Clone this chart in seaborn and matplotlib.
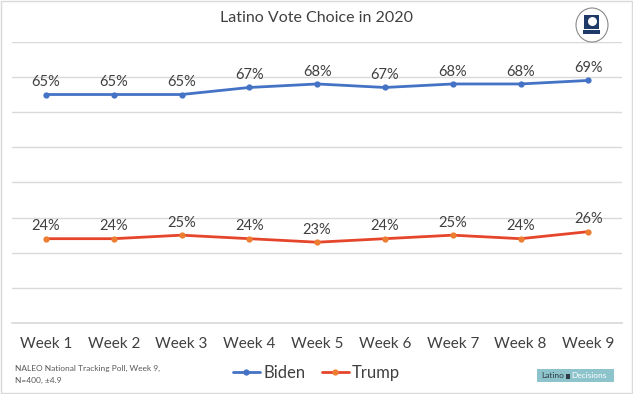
import matplotlib
matplotlib.use("Agg")
import matplotlib.pyplot as plt
from matplotlib.patches import Ellipse, Rectangle
import seaborn as sns
import pandas as pd

weeks = ["Week 1", "Week 2", "Week 3", "Week 4", "Week 5", "Week 6", "Week 7", "Week 8", "Week 9"]
biden = [65, 65, 65, 67, 68, 67, 68, 68, 69]
trump = [24, 24, 25, 24, 23, 24, 25, 24, 26]

sns.set_theme(style="white")
plt.rcParams['font.family'] = ['Lato', 'DejaVu Sans']

W, H = 633, 394
txt = '#404040'
fig = plt.figure(figsize=(W / 100, H / 100), dpi=100)
ax = fig.add_axes([0.019, 0.180, 0.964, 0.714])

df = pd.DataFrame({'week': weeks, 'Biden': biden, 'Trump': trump})

sns.lineplot(data=df, x='week', y='Biden', ax=ax, color='#4472C4', lw=2,
             marker='o', markersize=4.5, markeredgewidth=0, label='Biden', sort=False)
sns.lineplot(data=df, x='week', y='Trump', ax=ax, color='#E5462B', lw=2,
             marker='o', markersize=4.5, markerfacecolor='#ED7D31',
             markeredgewidth=0, label='Trump', sort=False)

for i, v in enumerate(biden):
    ax.annotate(f'{v}%', (i, v), xytext=(0, 6), textcoords='offset points',
                ha='center', va='baseline', fontsize=10.5, color=txt)
for i, v in enumerate(trump):
    ax.annotate(f'{v}%', (i, v), xytext=(0, 6), textcoords='offset points',
                ha='center', va='baseline', fontsize=10.5, color=txt)

ax.set_xlim(-0.5, 8.5)
ax.set_ylim(0, 80)
ax.set_yticks(range(0, 81, 10))
ax.yaxis.grid(True, color='#D9D9D9', lw=1)
ax.set_yticklabels([])
ax.tick_params(axis='y', length=0)
ax.tick_params(axis='x', length=0, labelsize=11, labelcolor=txt, pad=10)
ax.set_xlabel('')
ax.set_ylabel('')
for s in ['top', 'left', 'right']:
    ax.spines[s].set_visible(False)
ax.spines['bottom'].set_color('#D9D9D9')
ax.patch.set_alpha(0)

ax.legend_.remove()
h, l = ax.get_legend_handles_labels()
fig.legend(h, l, loc='center', bbox_to_anchor=(0.5, 0.053), ncol=2, frameon=False,
           fontsize=12, handlelength=1.6, handletextpad=0.2, columnspacing=1.0,
           labelcolor=txt)

fig.text(0.5, 0.955, 'Latino Vote Choice in 2020', ha='center', va='center',
         fontsize=11.5, color=txt)

fig.text(0.024, 0.066, 'NALEO National Tracking Poll, Week 9,', fontsize=6,
         color='#595959', va='center')
fig.text(0.024, 0.034, 'N=400, \u00b14.9', fontsize=6, color='#595959', va='center')

# Latino Decisions badge
fig.patches.append(Rectangle((537 / W, 12 / H), 77 / W, 13 / H, transform=fig.transFigure,
                             facecolor='#8DC3CB', edgecolor='none'))
fig.text(541 / W, 18.5 / H, 'Latino', fontsize=6, color='#2F3B45', va='center')
fig.patches.append(Rectangle((566 / W, 15.5 / H), 4 / W, 5 / H, transform=fig.transFigure,
                             facecolor='#2F3B45', edgecolor='none'))
fig.text(571 / W, 18.5 / H, 'Decisions', fontsize=6, color='white', va='center')

# NALEO logo (simplified)
cx, cy = 592, 394 - 25
fig.patches.append(Ellipse((cx / W, cy / H), 32 / W, 34 / H, transform=fig.transFigure,
                           facecolor='white', edgecolor='#8A8A8A', lw=0.8))
fig.patches.append(Rectangle(((cx - 8) / W, (cy - 4) / H), 15 / W, 14 / H,
                             transform=fig.transFigure, facecolor='#1F3A66', edgecolor='none'))
fig.patches.append(Ellipse(((cx + 0.5) / W, (cy + 3.5) / H), 9 / W, 9 / H,
                           transform=fig.transFigure, facecolor='white', edgecolor='none'))
fig.patches.append(Rectangle(((cx - 9) / W, (cy - 9) / H), 17 / W, 4 / H,
                             transform=fig.transFigure, facecolor='#1F3A66', edgecolor='none'))

# outer frame
fig.patches.append(Rectangle((0.001, 0.002), 0.997, 0.996, transform=fig.transFigure,
                             facecolor='none', edgecolor='#D9D9D9', lw=1))

fig.savefig('out.png', dpi=100)
